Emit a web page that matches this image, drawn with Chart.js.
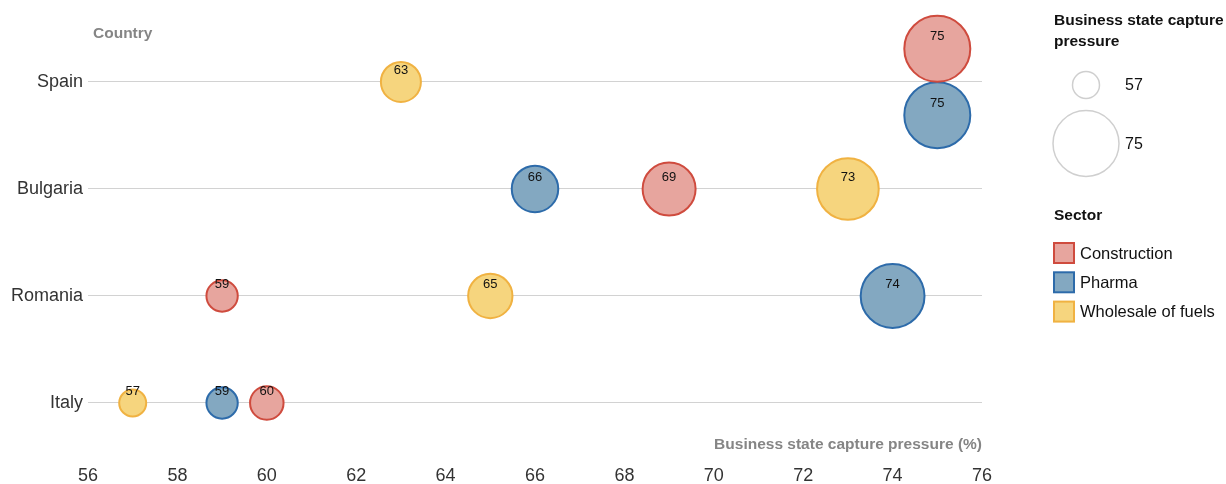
<!DOCTYPE html>
<html>
<head>
<meta charset="utf-8">
<script src="https://cdn.jsdelivr.net/npm/chart.js@4.4.1/dist/chart.umd.min.js"></script>
<style>
  html, body { margin: 0; padding: 0; background: #ffffff; }
  #wrap { width: 1226px; height: 484px; position: relative; }
</style>
</head>
<body>
<div id="wrap"><canvas id="c" width="1226" height="484"></canvas></div>
<script>
// ---- data ----
const countries = ['Italy', 'Romania', 'Bulgaria', 'Spain'];
const sectors = ['Construction', 'Pharma', 'Wholesale of fuels'];
const construction = [60, 59, 69, 75];
const pharma = [59, 74, 66, 75];
const wholesale = [57, 65, 73, 63];
const xTicks = [56, 58, 60, 62, 64, 66, 68, 70, 72, 74, 76];
const sizeLegendValues = [57, 75];

const seriesValues = [construction, pharma, wholesale];

// ---- styles ----
const FONT = '"Liberation Sans", Arial, Helvetica, sans-serif';
const fills = ['rgb(231,165,158)', 'rgb(131,168,193)', 'rgb(246,213,126)'];
const borders = ['rgb(207,75,62)', 'rgb(45,107,170)', 'rgb(240,178,66)'];
const R_MIN = 13.5, R_MAX = 33, V_MIN = 57, V_MAX = 75;
function radiusOf(v) { return R_MIN + (v - V_MIN) * (R_MAX - R_MIN) / (V_MAX - V_MIN); }
const TIE_SPREAD = 0.31; // vertical spread (row units) for equal values in one row

// build points; identical values within one country are stacked vertically
function buildPoints(si) {
  return countries.map((c, ci) => {
    const v = seriesValues[si][ci];
    const ties = seriesValues.map((s, k) => ({ k, v: s[ci] })).filter(o => o.v === v);
    let y = ci;
    if (ties.length > 1) {
      const pos = ties.findIndex(o => o.k === si);
      y = ci + TIE_SPREAD * ((ties.length - 1) / 2 - pos) * 2 / Math.max(1, ties.length - 1);
    }
    return { x: v, y: y, v: v };
  });
}

const datasets = sectors.map((name, si) => ({
  label: name,
  data: buildPoints(si),
  backgroundColor: fills[si],
  borderColor: borders[si],
  borderWidth: 2,
  radius: ctx => radiusOf(ctx.raw.v),
  hoverRadius: 0,
  clip: false
}));

const labelsPlugin = {
  id: 'valueLabels',
  afterDatasetsDraw(chart) {
    const ctx = chart.ctx;
    ctx.save();
    ctx.font = '13px ' + FONT;
    ctx.fillStyle = '#111';
    ctx.textAlign = 'center';
    ctx.textBaseline = 'middle';
    chart.data.datasets.forEach((ds, di) => {
      chart.getDatasetMeta(di).data.forEach((el, i) => {
        ctx.fillText(String(ds.data[i].v), el.x, el.y - 12);
      });
    });
    ctx.restore();
  }
};

const decorPlugin = {
  id: 'decor',
  afterDraw(chart) {
    const ctx = chart.ctx;
    const area = chart.chartArea;
    ctx.save();
    // axis titles
    ctx.font = 'bold 15.5px ' + FONT;
    ctx.fillStyle = '#858585';
    ctx.textBaseline = 'middle';
    ctx.textAlign = 'left';
    ctx.fillText('Country', area.left + 5, 34);
    ctx.textAlign = 'right';
    ctx.fillText('Business state capture pressure (%)', area.right, 445);

    // size legend
    const lx = 1054;
    ctx.textAlign = 'left';
    ctx.fillStyle = '#111';
    ctx.fillText('Business state capture', lx, 21);
    ctx.fillText('pressure', lx, 42);
    const cx = 1086;
    const centers = [85, 143.5];
    ctx.font = '16px ' + FONT;
    sizeLegendValues.forEach((v, i) => {
      ctx.beginPath();
      ctx.arc(cx, centers[i], radiusOf(v), 0, Math.PI * 2);
      ctx.strokeStyle = '#cfcfcf';
      ctx.lineWidth = 1.5;
      ctx.fillStyle = '#fff';
      ctx.fill();
      ctx.stroke();
      ctx.fillStyle = '#111';
      ctx.fillText(String(v), 1125, centers[i] + 1);
    });

    // sector legend
    ctx.font = 'bold 15.5px ' + FONT;
    ctx.fillText('Sector', lx, 216);
    ctx.font = '16.5px ' + FONT;
    sectors.forEach((s, i) => {
      const top = 243 + i * 29.3;
      ctx.fillStyle = fills[i];
      ctx.fillRect(lx, top, 20, 20);
      ctx.strokeStyle = borders[i];
      ctx.lineWidth = 2;
      ctx.strokeRect(lx, top, 20, 20);
      ctx.fillStyle = '#111';
      ctx.fillText(s, 1080, top + 11);
    });
    ctx.restore();
  }
};

new Chart(document.getElementById('c'), {
  type: 'bubble',
  data: { datasets },
  options: {
    responsive: false,
    animation: false,
    events: [],
    layout: { autoPadding: false, padding: { top: 20, right: 244, left: 0, bottom: 0 } },
    plugins: { legend: { display: false }, tooltip: { enabled: false } },
    scales: {
      x: {
        type: 'linear',
        min: xTicks[0],
        max: xTicks[xTicks.length - 1],
        afterBuildTicks: s => { s.ticks = xTicks.map(v => ({ value: v })); },
        afterFit: s => { s.height = 52; s.paddingLeft = 0; s.paddingRight = 0; },
        grid: { display: false, drawTicks: false },
        border: { display: false },
        ticks: { font: { size: 18, family: FONT }, color: '#333', padding: 33, maxRotation: 0 }
      },
      y: {
        type: 'linear',
        min: -0.271,
        max: 3.579,
        afterBuildTicks: s => { s.ticks = countries.map((c, i) => ({ value: i })); },
        afterFit: s => { s.width = 88; s.paddingTop = 0; s.paddingBottom = 0; },
        grid: { color: '#d2d2d2', lineWidth: 1, drawTicks: false },
        border: { display: false },
        ticks: {
          font: { size: 18, family: FONT },
          color: '#333',
          padding: 5,
          callback: v => countries[v] !== undefined ? countries[v] : ''
        }
      }
    }
  },
  plugins: [labelsPlugin, decorPlugin]
});
</script>
</body>
</html>
